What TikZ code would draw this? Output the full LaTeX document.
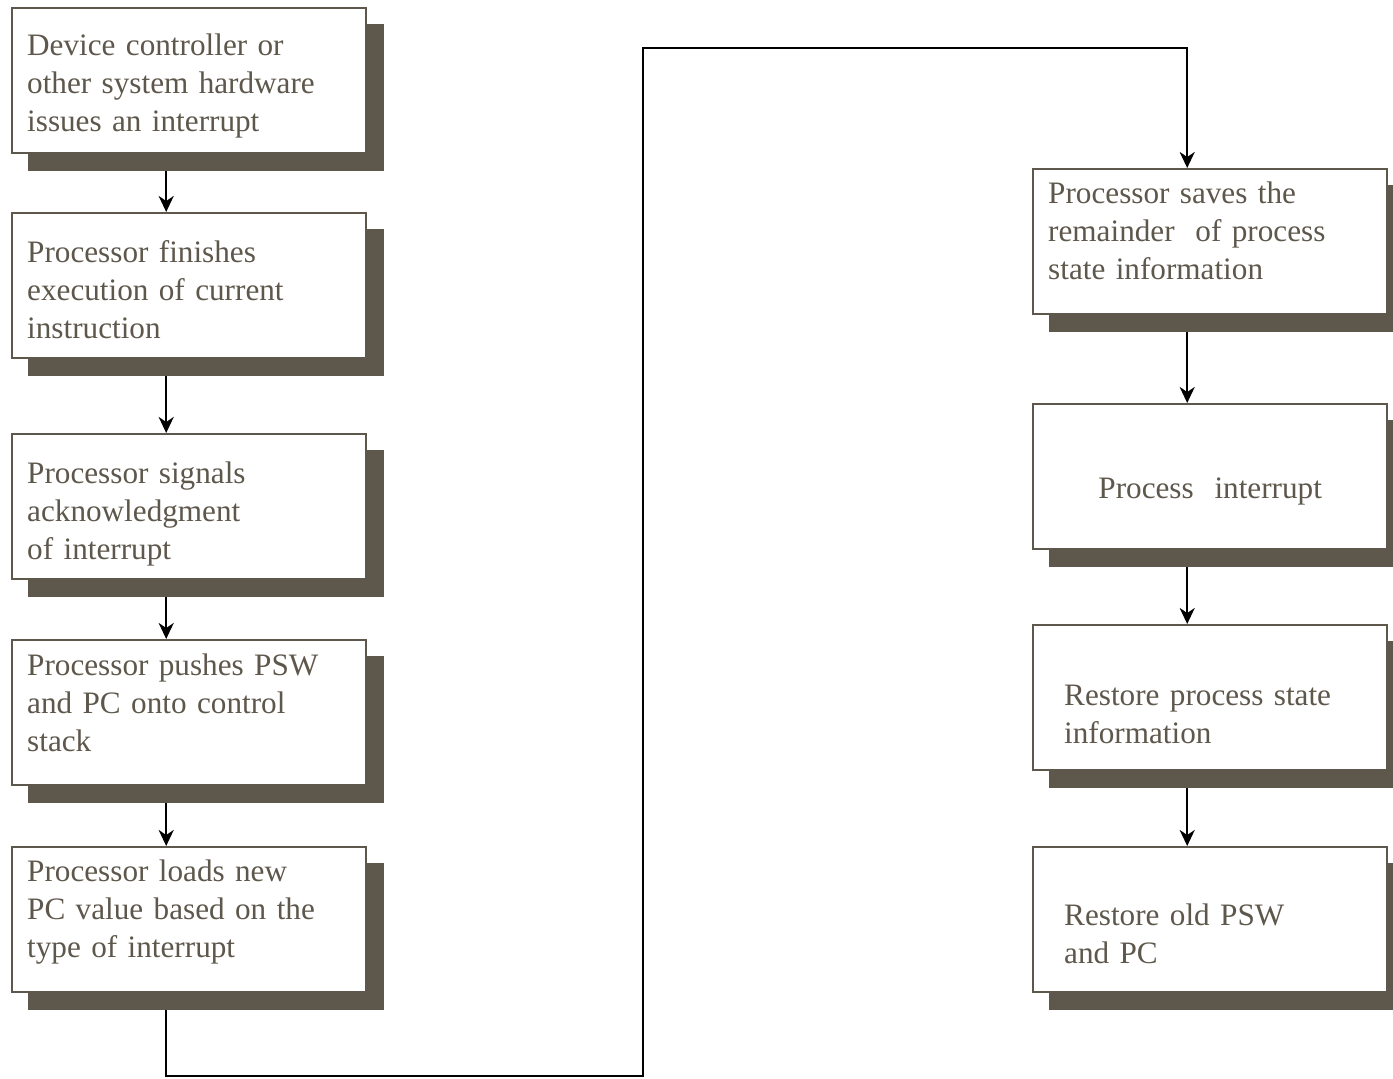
\documentclass[tikz,border=0pt]{standalone}
\usepackage{fontspec}
\setmainfont{Liberation Serif}
\usepackage{tikz}
\usetikzlibrary{arrows.meta,positioning,shadows}
\definecolor{boxgray}{RGB}{94,87,76}
\newcommand{\padbot}[1]{\par\nointerlineskip\vbox to #1{}}
\newcommand{\padtop}[1]{\rule{0pt}{#1}}

\begin{document}
\begin{tikzpicture}[
  x=0.5pt, y=-0.5pt,
  box/.style={draw=boxgray, line width=1.2pt, fill=white, align=left, text width=162pt,
    inner xsep=7.5pt, minimum width=177pt, minimum height=72.5pt, text=boxgray,
    font=\fontsize{15.6}{19}\selectfont,
    drop shadow={shadow xshift=8.5pt, shadow yshift=-8.5pt, fill=boxgray, draw=boxgray, opacity=1}},
  arr/.style={-{Stealth[length=8pt,width=7.5pt,inset=2.5pt]}, line width=1.1pt}
]
\useasboundingbox (0,0) rectangle (1393,1078);
\clip (0,0) rectangle (1393,1078);

% left column
\node[box, anchor=north west] (dev) at (11,7) {\padtop{15.7pt}Device controller or\\other system hardware\\issues an interrupt};
\node[box, below=28.8pt of dev] (fin) {\padtop{14.7pt}Processor finishes\\execution of current\\instruction};
\node[box, below=36.8pt of fin] (ack) {\padtop{17.7pt}Processor signals\\acknowledgment\\of interrupt};
\node[box, below=29.3pt of ack] (push) {Processor pushes PSW\\and PC onto control\\stack\padbot{10pt}};
\node[box, below=29.8pt of push] (load) {Processor loads new\\PC value based on the\\type of interrupt\padbot{8pt}};

% right column
\node[box, anchor=north west] (save) at (1032,168) {Processor saves the\\remainder\ \ of process\\state information\padbot{11pt}};
\node[box, align=center, below=43.8pt of save] (proc) {\padtop{25.3pt}Process\ \ interrupt};
\node[box, text width=146pt, below=36.8pt of proc] (rest) {\padtop{26.7pt}Restore process state\\information};
\node[box, text width=146pt, below=37.3pt of rest] (old) {\padtop{24.7pt}Restore old PSW\\and PC};

\foreach \a/\b in {dev/fin, fin/ack, ack/push, push/load, save/proc, proc/rest, rest/old}
  \draw[arr] ([shift={(-23,17)}]\a.south) -- ([shift={(-23,0)}]\b.north);

\coordinate (lowbend) at (643,1076);
\coordinate (topbend) at (643,48);
\draw[arr] ([shift={(-23,17)}]load.south) |- (lowbend) -- (topbend) -| ([shift={(-23,0)}]save.north);
\end{tikzpicture}
\end{document}
